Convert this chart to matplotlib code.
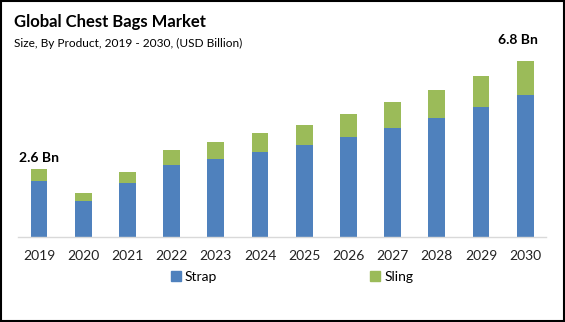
import matplotlib.pyplot as plt
import numpy as np
from matplotlib.patches import Rectangle, Patch

# values (USD Billion)
years = ["2019", "2020", "2021", "2022", "2023", "2024", "2025", "2026", "2027", "2028", "2029", "2030"]
strap = [2.17, 1.40, 2.10, 2.78, 3.01, 3.28, 3.55, 3.86, 4.21, 4.61, 5.02, 5.48]
sling = [0.46, 0.31, 0.41, 0.58, 0.66, 0.74, 0.77, 0.89, 1.00, 1.07, 1.20, 1.32]

BLUE = "#4f81bd"
GREEN = "#9bbb59"

plt.rcParams["font.family"] = ["Lato", "DejaVu Sans"]

W, H = 565, 322
fig = plt.figure(figsize=(W / 100, H / 100), dpi=100)

# axes placed in pixel terms
left, right, top, bottom = 18, 546, 45, 237
ax = fig.add_axes([left / W, 1 - bottom / H, (right - left) / W, (bottom - top) / H])

x = np.arange(len(years))
ax.bar(x, strap, width=0.38, color=BLUE, label="Strap")
ax.bar(x, sling, width=0.38, bottom=strap, color=GREEN, label="Sling")

ax.set_xlim(-0.475, 11.47)
ax.set_ylim(0, 7.42)
ax.set_xticks(x)
ax.set_xticklabels(years, fontsize=10, color="#222222")
ax.tick_params(axis="x", length=0, pad=9)
ax.set_yticks([])
for s in ["top", "right", "left"]:
    ax.spines[s].set_visible(False)
ax.spines["bottom"].set_color("#d9d9d9")
ax.spines["bottom"].set_linewidth(1)

total_first = strap[0] + sling[0]
total_last = strap[-1] + sling[-1]
ax.annotate("2.6 Bn", (0, total_first), xytext=(0, 8), textcoords="offset points",
            ha="center", va="center", fontsize=10, fontweight="bold")
ax.annotate("6.8 Bn", (11, total_last), xytext=(-5, 15), textcoords="offset points",
            ha="center", va="center", fontsize=10, fontweight="bold")

fig.text(14 / W, 1 - 22 / H, "Global Chest Bags Market", fontsize=12, fontweight="bold",
         ha="left", va="center")
fig.text(14 / W, 1 - 43 / H, "Size, By Product, 2019 - 2030, (USD Billion)", fontsize=8.6,
         ha="left", va="center")

handles = [Patch(color=BLUE, label="Strap"), Patch(color=GREEN, label="Sling")]
fig.legend(handles=handles, loc="center", bbox_to_anchor=(0.517, 1 - 277 / H), ncol=2,
           frameon=False, fontsize=10, handlelength=0.7, handleheight=0.7,
           handletextpad=0.3, columnspacing=11)

fig.patches.append(Rectangle((0.001, 0.002), 0.997, 0.996, transform=fig.transFigure,
                             fill=False, edgecolor="black", linewidth=1.5))

fig.savefig("out.png", dpi=100)
